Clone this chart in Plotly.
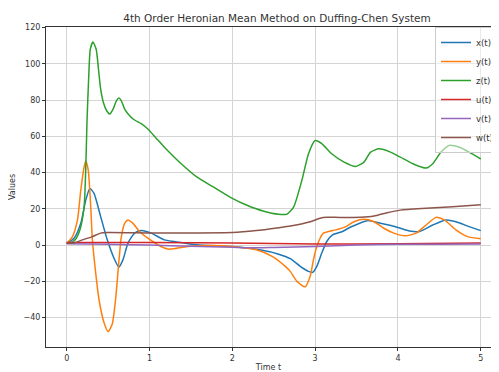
import plotly.graph_objects as go

# ---- data ----
t_x = [0, 0.09, 0.17, 0.23, 0.28, 0.33, 0.41, 0.49, 0.57, 0.63, 0.68, 0.74, 0.82, 0.90, 1.02, 1.18, 1.30, 1.57, 2.0, 2.33, 2.56, 2.70, 2.82, 2.92, 2.97, 3.02, 3.08, 3.14, 3.21, 3.33, 3.43, 3.63, 3.79, 3.99, 4.14, 4.26, 4.42, 4.58, 4.70, 4.86, 5.0]
x_vals = [1, 3.8, 12, 24.8, 31.2, 28.5, 15.7, 2.9, -7.1, -12.1, -8, 1.1, 6.6, 8, 6.6, 2.9, 2, 0.2, -0.8, -2.6, -5, -7.5, -11.7, -14.5, -15, -11.7, -4.4, 2, 5.6, 7.5, 10, 13.5, 12, 9.9, 7.8, 7.5, 11.1, 13.9, 12.9, 10.2, 8]

t_y = [0, 0.07, 0.13, 0.17, 0.21, 0.23, 0.26, 0.29, 0.31, 0.35, 0.39, 0.45, 0.5, 0.55, 0.59, 0.625, 0.66, 0.70, 0.74, 0.80, 0.88, 0.98, 1.1, 1.22, 1.30, 1.46, 1.77, 2.0, 2.29, 2.48, 2.64, 2.70, 2.78, 2.88, 2.94, 2.98, 3.02, 3.06, 3.10, 3.16, 3.25, 3.37, 3.47, 3.59, 3.71, 3.83, 3.95, 4.09, 4.22, 4.34, 4.46, 4.56, 4.70, 4.84, 5.0]
y_vals = [1, 4.7, 13.9, 30.3, 43, 46.4, 41.3, 21.2, 2.9, -15.3, -30, -42.7, -47.7, -43.5, -30, -11.7, 4.7, 12, 13.9, 12, 7.5, 3.8, 0.2, -2.2, -2, -0.8, -0.2, -0.8, -2.6, -6.2, -11.7, -14.5, -20, -23, -17.2, -8, -0.8, 3.8, 6.6, 7.5, 8.4, 10.2, 12.9, 14.2, 12.9, 9.3, 6.6, 5.1, 6.6, 11.1, 15.3, 13.9, 8.4, 4.7, 3.5]

t_z = [0, 0.05, 0.1, 0.16, 0.21, 0.23, 0.245, 0.266, 0.285, 0.317, 0.356, 0.384, 0.41, 0.443, 0.483, 0.52, 0.56, 0.60, 0.63, 0.66, 0.70, 0.76, 0.82, 0.90, 0.98, 1.08, 1.18, 1.38, 1.57, 1.77, 2.0, 2.17, 2.37, 2.56, 2.66, 2.74, 2.84, 2.92, 3.0, 3.08, 3.2, 3.35, 3.49, 3.59, 3.67, 3.77, 3.91, 4.03, 4.18, 4.34, 4.42, 4.52, 4.62, 4.74, 4.86, 5.0]
z_vals = [1, 1.3, 2.8, 8.5, 21, 42, 68, 93, 108, 112, 108, 97, 86, 78.7, 74.1, 72.3, 75, 79.6, 81.1, 79.6, 75, 71.4, 69, 67, 64, 59, 54, 45, 37.6, 32.1, 25.8, 22.1, 18.8, 17, 17.1, 21, 35.8, 50.4, 57.7, 56, 50.4, 45.8, 43.4, 45.8, 51.3, 53.1, 51.3, 48.5, 44.9, 42.5, 44.9, 51.3, 55, 54, 51.3, 47.5]

t_u = [0, 1, 2, 3, 4, 5]
u_vals = [1.5, 1.4, 1.1, 0.6, 0.8, 1.1]

t_v = [0, 0.5, 1, 1.5, 2, 2.2, 2.5, 3, 3.5, 4, 4.5, 5]
v_vals = [0.8, 0.5, 0.0, -0.6, -1.2, -1.5, -1.3, -0.8, 0, 0.5, 0.5, 0.6]

t_w = [0, 0.1, 0.19, 0.31, 0.41, 0.49, 1.0, 1.5, 2.0, 2.29, 2.56, 2.70, 2.94, 3.06, 3.14, 3.24, 3.55, 3.71, 3.87, 4.03, 4.34, 4.66, 5.0]
w_vals = [1, 1.3, 2.9, 4.7, 6.6, 6.9, 6.7, 6.7, 6.9, 8, 9.6, 10.5, 12.9, 14.8, 15.3, 15.3, 15.3, 16, 17.9, 19.3, 20.3, 21.2, 22.2]

series = [
    ("x(t)", t_x, x_vals, "#1f77b4"),
    ("y(t)", t_y, y_vals, "#ff7f0e"),
    ("z(t)", t_z, z_vals, "#2ca02c"),
    ("u(t)", t_u, u_vals, "#d62728"),
    ("v(t)", t_v, v_vals, "#9467bd"),
    ("w(t)", t_w, w_vals, "#8c564b"),
]

FONT = "DejaVu Sans"
# the page places the figure 8px in from the top-left corner
W, H = 491, 364

fig = go.Figure()
for name, tt, vv, col in series:
    fig.add_trace(go.Scatter(
        x=tt, y=vv, name=name, mode="lines",
        line=dict(color=col, width=1.5, shape="spline", smoothing=0.6),
    ))

fig.update_layout(
    width=W, height=H, autosize=False,
    margin=dict(l=38, r=0, t=19, b=25),
    paper_bgcolor="white", plot_bgcolor="white",
    font=dict(family=FONT, size=8, color="#333333"),
    title=dict(text="4th Order Heronian Mean Method on Duffing-Chen System",
               font=dict(family=FONT, size=10.5, color="#333333"),
               x=269 / W, xanchor="center", xref="container",
               y=1 - 10 / H, yanchor="middle", yref="container"),
    showlegend=True,
    legend=dict(x=0.875, xanchor="left", y=1.0, yanchor="top",
                bgcolor="rgba(255,255,255,0.5)", bordercolor="#cccccc", borderwidth=1,
                font=dict(family=FONT, size=8.5, color="#333333"),
                tracegroupgap=0),
)

fig.update_xaxes(
    range=[-0.25, -0.25 + 453 / 84.3],
    tickvals=[0, 1, 2, 3, 4, 5], ticktext=["0", "1", "2", "3", "4", "5"],
    showgrid=True, gridcolor="#d4d4d4", gridwidth=1,
    zeroline=False,
    showline=True, linecolor="#333333", linewidth=1, mirror=True,
    ticks="outside", ticklen=3, tickcolor="#333333",
    tickfont=dict(family=FONT, size=8, color="#333333"),
    title=dict(text="Time t", font=dict(family=FONT, size=8, color="#333333"), standoff=4),
)
fig.update_yaxes(
    range=[-56.2, 120.3],
    tickvals=[-40, -20, 0, 20, 40, 60, 80, 100, 120],
    ticktext=["\u221240", "\u221220", "0", "20", "40", "60", "80", "100", "120"],
    showgrid=True, gridcolor="#d4d4d4", gridwidth=1,
    zeroline=False,
    showline=True, linecolor="#333333", linewidth=1, mirror=False,
    ticks="outside", ticklen=3, tickcolor="#333333",
    tickfont=dict(family=FONT, size=8, color="#333333"),
    title=dict(text="Values", font=dict(family=FONT, size=8, color="#333333"), standoff=6),
)

fig.write_html("out.html")
